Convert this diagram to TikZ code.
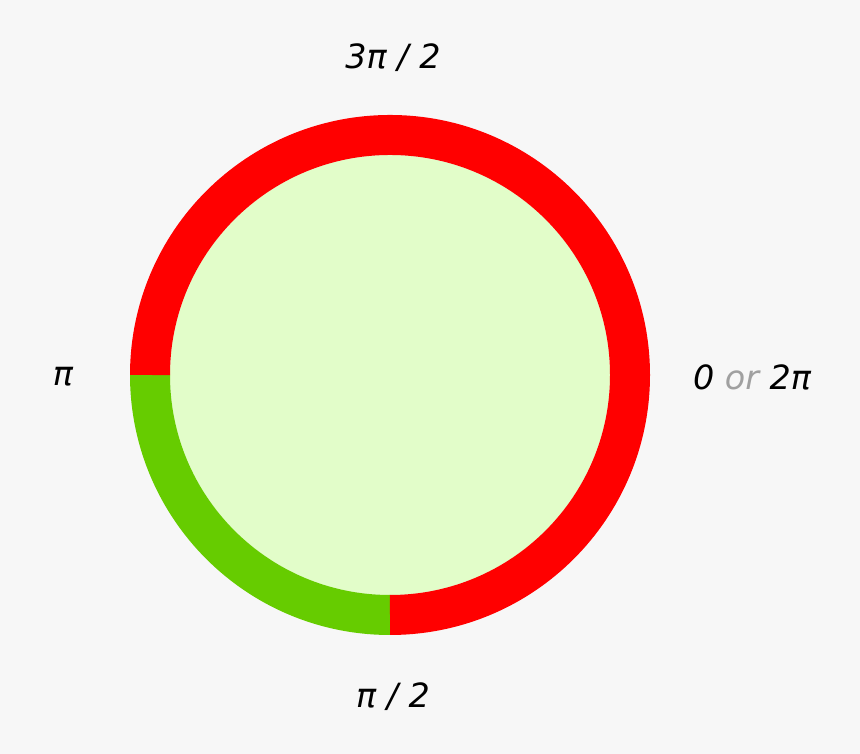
\documentclass[tikz,border=0pt]{standalone}
\usepackage{fontspec}
\setmainfont{DejaVu Sans}
\usepackage{xcolor}
\usetikzlibrary{positioning,calc}

\definecolor{bgcol}{HTML}{F7F7F7}
\definecolor{fillcol}{HTML}{E2FDC9}
\definecolor{arcred}{HTML}{FF0000}
\definecolor{arcgreen}{HTML}{66CC00}
\definecolor{orgray}{HTML}{A0A0A0}

\tikzset{
    ring/.style={line width=0.8cm, line cap=butt},
    angle/.style={font=\fontsize{19}{22}\selectfont\itshape, text=black}
}

\begin{document}
\begin{tikzpicture}
    \fill[bgcol] (0,0) rectangle (17.2,15.08);
    \useasboundingbox (0,0) rectangle (17.2,15.08);

    \coordinate (C) at (7.8,7.58);
    \fill[fillcol] (C) circle (4.4);

    % ring
    \draw[ring, arcgreen] ($(C)+(180:4.8)$) arc (180:270:4.8);
    \draw[ring, arcred] ($(C)+(270:4.8)$) arc (-90:180:4.8);

    % labels
    \node[angle] (top) at (7.86,13.92) {3π / 2};
    \node[angle] (left) at (1.26,7.54) {π};
    \node[angle] (right) at (15.04,7.54) {0 {\color{orgray}or} 2π};
    \node[angle] (bottom) at (7.86,1.14) {π / 2};
\end{tikzpicture}
\end{document}
